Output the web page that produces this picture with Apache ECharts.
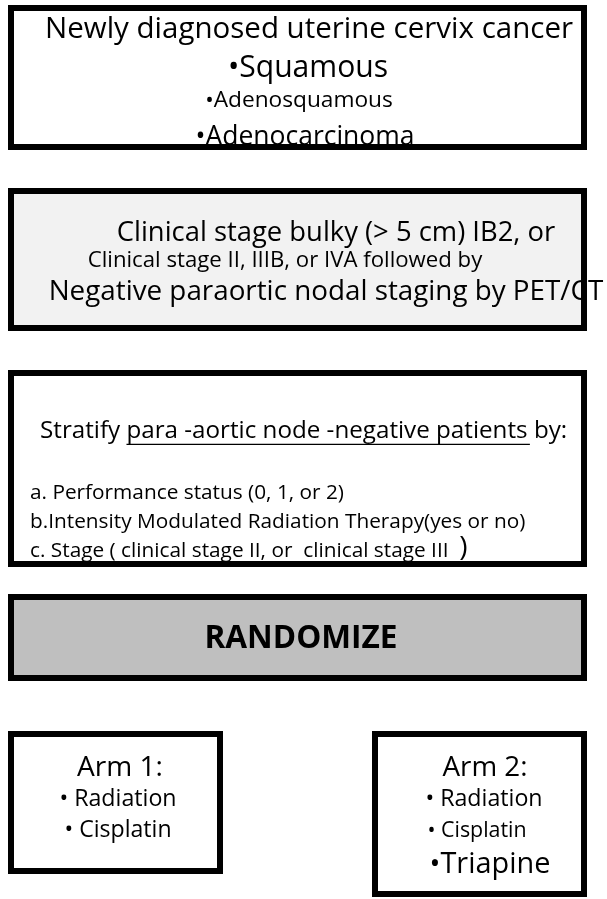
<!DOCTYPE html>
<html><head><meta charset="utf-8">
<script src="https://cdn.jsdelivr.net/npm/echarts@6/dist/echarts.min.js"></script>
<style>html,body{margin:0;padding:0;background:#fff}#c{width:607px;height:899px}</style>
</head><body><div id="c"></div>
<script>
// ---- content (data) ----
const box1Lines = ["Newly diagnosed uterine cervix cancer", "•Squamous", "•Adenosquamous", "•Adenocarcinoma"];
const box2Lines = ["Clinical stage bulky (> 5 cm) IB2, or", "Clinical stage II, IIIB, or IVA followed by", "Negative paraortic nodal staging by PET/CT"];
const stratifyParts = ["Stratify ", "para -aortic node -negative patients ", "by:"];
const stratifyItems = ["a. Performance status (0, 1, or 2)", "b.Intensity Modulated Radiation Therapy(yes or no)", "c. Stage ( clinical stage II, or  clinical stage III  "];
const stratifyClose = [")"];
const randomizeLabel = ["RANDOMIZE"];
const arm1Lines = ["Arm 1:", "• Radiation", "• Cisplatin"];
const arm2Lines = ["Arm 2:", "• Radiation", "• Cisplatin", "•Triapine"];

// ---- layout (x = centre or left, y = middle, w = target text width) ----
const FONT = '"Open Sans", "Noto Sans", sans-serif';
const BW = 6;
const boxes = [
  {x: 8, y: 5, w: 579, h: 145, fill: '#ffffff'},
  {x: 8, y: 188, w: 579, h: 143, fill: '#f2f2f2'},
  {x: 8, y: 370, w: 579, h: 197, fill: '#ffffff'},
  {x: 8, y: 594, w: 579, h: 87, fill: '#bfbfbf'},
  {x: 8, y: 731, w: 215, h: 143, fill: '#ffffff'},
  {x: 372, y: 731, w: 215, h: 166, fill: '#ffffff'}
];
const box1Layout = [{x: 309, y: 30, w: 528}, {x: 308, y: 68, w: 160}, {x: 299, y: 101, w: 188}, {x: 305, y: 137, w: 219}];
const box2Layout = [{x: 336, y: 233, w: 438}, {x: 285, y: 261, w: 395}, {x: 326, y: 292, w: 555}];
const stratLayout = {x: 40, y: 431, w: 528};
const itemLayout = [{x: 30, y: 493}, {x: 30, y: 522, w: 495}, {x: 30, y: 551}];
const randLayout = {x: 301, y: 639, w: 193};
const arm1Layout = [{x: 120, y: 768, w: 86}, {x: 118, y: 799, w: 117}, {x: 118, y: 830, w: 107}];
const arm2Layout = [{x: 485, y: 768, w: 85}, {x: 484, y: 799, w: 117}, {x: 477, y: 831, w: 99}, {x: 490, y: 865, w: 121}];

const measCtx = document.createElement('canvas').getContext('2d');
function measure(t, s, wt) { measCtx.font = (wt || 'normal') + ' ' + s + 'px ' + FONT; return measCtx.measureText(t).width; }
function fitSize(t, w, wt) { return Math.round(100 * w / measure(t, 100, wt) * 10) / 10; }

function text(t, x, y, s, align, weight) {
  return {type: 'text', z: 10, style: {text: t, x: x, y: y, fontSize: s, fontFamily: FONT,
    fontWeight: weight || 'normal', fill: '#000', align: align || 'center', verticalAlign: 'middle'}};
}
function fitted(t, L, align, weight) { return text(t, L.x, L.y, fitSize(t, L.w, weight), align, weight); }

const els = [];
boxes.forEach(b => {
  els.push({type: 'rect', z: 1, shape: {x: b.x, y: b.y, width: b.w, height: b.h}, style: {fill: b.fill}});
  els.push({type: 'rect', z: 20, shape: {x: b.x + BW / 2, y: b.y + BW / 2, width: b.w - BW, height: b.h - BW},
    style: {fill: 'none', stroke: '#000', lineWidth: BW}});
});
box1Lines.forEach((t, i) => els.push(fitted(t, box1Layout[i])));
box2Lines.forEach((t, i) => els.push(fitted(t, box2Layout[i])));
// stratify line with underlined middle part
const stratS = fitSize(stratifyParts.join(''), stratLayout.w);
let sx = stratLayout.x;
stratifyParts.forEach((t, i) => {
  const w = measure(t, stratS);
  els.push(text(t, sx, stratLayout.y, stratS, 'left'));
  if (i === 1) {
    const uy = stratLayout.y + stratS * 0.55;
    els.push({type: 'line', z: 10, shape: {x1: sx, y1: uy, x2: sx + w - 4, y2: uy}, style: {stroke: '#000', lineWidth: 1.3}});
  }
  sx += w;
});
const itemS = fitSize(stratifyItems[1], itemLayout[1].w);
stratifyItems.forEach((t, i) => {
  els.push(text(t, itemLayout[i].x, itemLayout[i].y, itemS, 'left'));
  if (i === 2) {
    const w = measure(t, itemS);
    els.push(text(stratifyClose[0], itemLayout[i].x + w, itemLayout[i].y - 3, itemS * 1.35, 'left'));
  }
});
els.push(fitted(randomizeLabel[0], randLayout, 'center', 'bold'));
arm1Lines.forEach((t, i) => els.push(fitted(t, arm1Layout[i])));
arm2Lines.forEach((t, i) => els.push(fitted(t, arm2Layout[i])));

const chart = echarts.init(document.getElementById('c'), null, {renderer: 'canvas'});
chart.setOption({backgroundColor: '#ffffff', animation: false, graphic: {elements: els}});
</script></body></html>
